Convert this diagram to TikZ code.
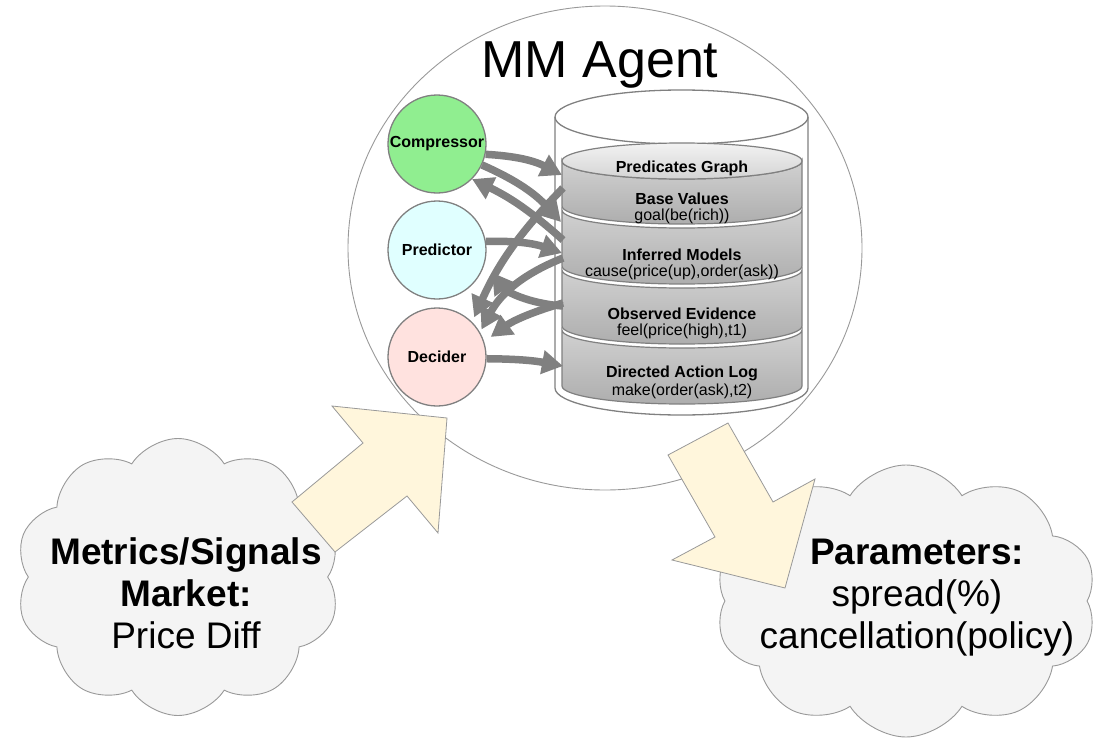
\documentclass[tikz,border=0pt]{standalone}
\usepackage{fontspec}
\setmainfont{Liberation Sans}
\usetikzlibrary{arrows.meta,shapes.symbols,shapes.geometric}
\definecolor{lgreen}{HTML}{90EE90}
\definecolor{lcyan}{HTML}{E0FFFF}
\definecolor{lpink}{HTML}{FFE2DF}
\definecolor{cream}{HTML}{FFF6DC}
\definecolor{cloudgray}{HTML}{F4F4F4}
\definecolor{linegray}{HTML}{808080}
\definecolor{thingray}{HTML}{999999}
\newcommand\cyllayer[2]{\path[layerbody] (562,#1) -- (562,#2) arc[start angle=180,end angle=360,x radius=120pt,y radius=18pt] -- (802,#1) arc[start angle=360,end angle=180,x radius=120pt,y radius=18pt] -- cycle;}
\begin{document}
\begin{tikzpicture}[x=1pt,y=-1pt,
  agentnode/.style={circle, draw=linegray, line width=1.3pt, minimum size=98pt, inner sep=0pt, font=\fontsize{16}{19}\selectfont\bfseries},
  flow/.style={draw=linegray, line width=7.5pt, -{Triangle[length=21pt,width=23pt]}},
  layerbody/.style={draw=linegray, line width=1.2pt, top color=gray!36, bottom color=gray!64},
  cyltitle/.style={font=\fontsize{16}{19}\selectfont\bfseries, inner sep=0pt},
  cylval/.style={font=\fontsize{16}{19}\selectfont, inner sep=0pt},
  cloudbox/.style={cloud, cloud puffs=10, cloud puff arc=115, cloud ignores aspect, draw=thingray, line width=0.9pt, fill=cloudgray, inner sep=0pt},
  bigarrow/.style={draw=thingray, line width=0.8pt, fill=cream, line join=miter},
  cloudtext/.style={font=\fontsize{37}{42}\selectfont, align=center, inner sep=0pt}
]
\useasboundingbox (0,0) rectangle (1098,739);

% agent boundary
\node[ellipse, draw=thingray, line width=0.9pt, minimum width=514pt, minimum height=484pt, inner sep=0pt] (agent) at (605,248) {};
\node[font=\fontsize{52}{60}\selectfont, anchor=base, inner sep=0pt] (title) at (600,77) {MM Agent};

% clouds
\node[cloudbox, minimum width=325pt, minimum height=277pt] (incloud) at (178,577) {};
\node[cloudbox, minimum width=382pt, minimum height=272pt] (outcloud) at (906,601) {};

% outer cylinder
\path[draw=linegray, line width=1.3pt, fill=white] (555,117) -- (555,388) arc[start angle=180, end angle=360, x radius=126.5pt, y radius=27pt] -- (808,117);
\draw[linegray, line width=1.3pt] (681.5,117) ellipse [x radius=126.5pt, y radius=27pt];

% stacked layers
\cyllayer{330}{386}
\cyllayer{270}{326}
\cyllayer{210}{266}
\cyllayer{161}{206}
\path[draw=linegray, line width=1.2pt, top color=gray!10, bottom color=gray!34] (682,161) ellipse [x radius=120pt, y radius=18pt];

\node[cyltitle] (tpg) at (682,168) {Predicates Graph};
\node[cyltitle] (tbv) at (682,199) {Base Values};
\node[cylval] (vbv) at (682,216) {goal(be(rich))};
\node[cyltitle] (tim) at (682,255) {Inferred Models};
\node[cylval] (vim) at (682,272) {cause(price(up),order(ask))};
\node[cyltitle] (toe) at (682,314) {Observed Evidence};
\node[cylval] (voe) at (682,331) {feel(price(high),t1)};
\node[cyltitle] (tda) at (682,373) {Directed Action Log};
\node[cylval] (vda) at (682,391) {make(order(ask),t2)};

% agents
\node[agentnode, fill=lgreen] (comp) at (437,144) {Compressor};
\node[agentnode, fill=lcyan] (pred) at (437,250) {Predictor};
\node[agentnode, fill=lpink] (dec) at (437,357) {Decider};

% connection points on the store
\coordinate (cA) at (562,175);
\coordinate (cB) at (561,222);
\coordinate (cC) at (563,240);
\coordinate (cD) at (562,253);
\coordinate (cE) at (563,188);
\coordinate (cF) at (563,258);
\coordinate (cG) at (563,303);
\coordinate (cH) at (563,306);
\coordinate (cI) at (563,366);

\draw[flow] (comp.-12) to[bend left=12] (cA);
\draw[flow] (comp.-25) to[bend left=12] (cB);
\draw[flow] (cC) to[bend right=8] (comp.-45);
\draw[flow] (pred.10) to[bend left=10] (cD);
\draw[flow, shorten >=12pt] (cH) to[bend left=25] (pred.-15);
\draw[flow, shorten >=5pt] (cE) to[bend right=10] (dec.45);
\draw[flow, shorten >=3pt] (cF) to[bend right=20] (dec.30);
\draw[flow, shorten >=8pt] (cG) to[bend right=10] (dec.18);
\draw[flow] (dec.-2) to[bend left=5] (cI);

% big arrows
\draw[bigarrow] (292,502) -- (363,443) -- (332,406) -- (447,418) -- (438,533) -- (407,496) -- (335,552) -- cycle;
\draw[bigarrow] (668,455) -- (728,423) -- (773,502) -- (815,479) -- (785,588) -- (672,560) -- (715,537) -- cycle;

% cloud texts
\node[cloudtext] (intext) at (186,593) {\textbf{Metrics/Signals}\\\textbf{Market:}\\Price Diff};
\node[cloudtext] (outtext) at (917,598) {\textbf{Parameters:}\\spread(\%)\\cancellation(policy)};
\end{tikzpicture}
\end{document}
